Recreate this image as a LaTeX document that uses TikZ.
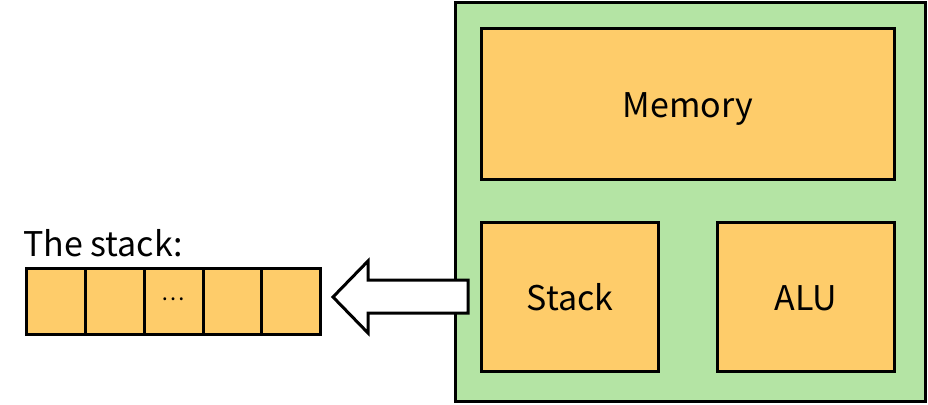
\documentclass[tikz,border=0pt]{standalone}
\usepackage{fontspec}
\setmainfont{Noto Sans CJK SC}
\definecolor{boxorange}{HTML}{FECC6A}
\definecolor{boxgreen}{HTML}{B4E4A4}
\begin{document}
\begin{tikzpicture}[x=1pt,y=-1pt,
  blk/.style={draw=black,line width=3pt,fill=boxorange,rectangle,inner sep=0pt,
    text height=26pt,text depth=0pt,font=\fontsize{34}{40}\selectfont},
  cell/.style={draw=black,line width=3pt,fill=boxorange,rectangle,inner sep=0pt,
    minimum width=58.8pt,minimum height=66pt,font=\fontsize{22}{26}\selectfont},
  big/.style={draw=black,line width=3pt,fill=boxgreen,rectangle,inner sep=0pt},
  blockarrow/.style={draw=black,line width=3pt,fill=white,line join=miter}]
\useasboundingbox (0,0) rectangle (928,404);
% green container
\node[big,minimum width=470pt,minimum height=398pt] (cpu) at (690,202) {};
% block arrow
\coordinate (tip) at (333,297);
\draw[blockarrow] (tip) -- (368,261) -- (368,280) -- (468,280) -- (468,313) -- (368,313) -- (368,333) -- cycle;
% inner boxes
\node[blk,minimum width=413pt,minimum height=150pt] (mem) at (688,104) {Memory};
\node[blk,minimum width=177pt,minimum height=149pt] (stk) at (570,297) {Stack};
\node[blk,minimum width=177pt,minimum height=149pt] (alu) at (806,297) {ALU};
% stack cells
\node[cell] (c1) at (56,301.5) {};
\node[cell] (c2) at (114.8,301.5) {};
\node[cell] (c3) at (173.6,301.5) {\raisebox{4pt}{\ldots}};
\node[cell] (c4) at (232.4,301.5) {};
\node[cell] (c5) at (291.2,301.5) {};
\node[anchor=base west,inner sep=0pt,font=\fontsize{34}{40}\selectfont] (lbl) at (23,256) {The stack:};
\end{tikzpicture}
\end{document}
